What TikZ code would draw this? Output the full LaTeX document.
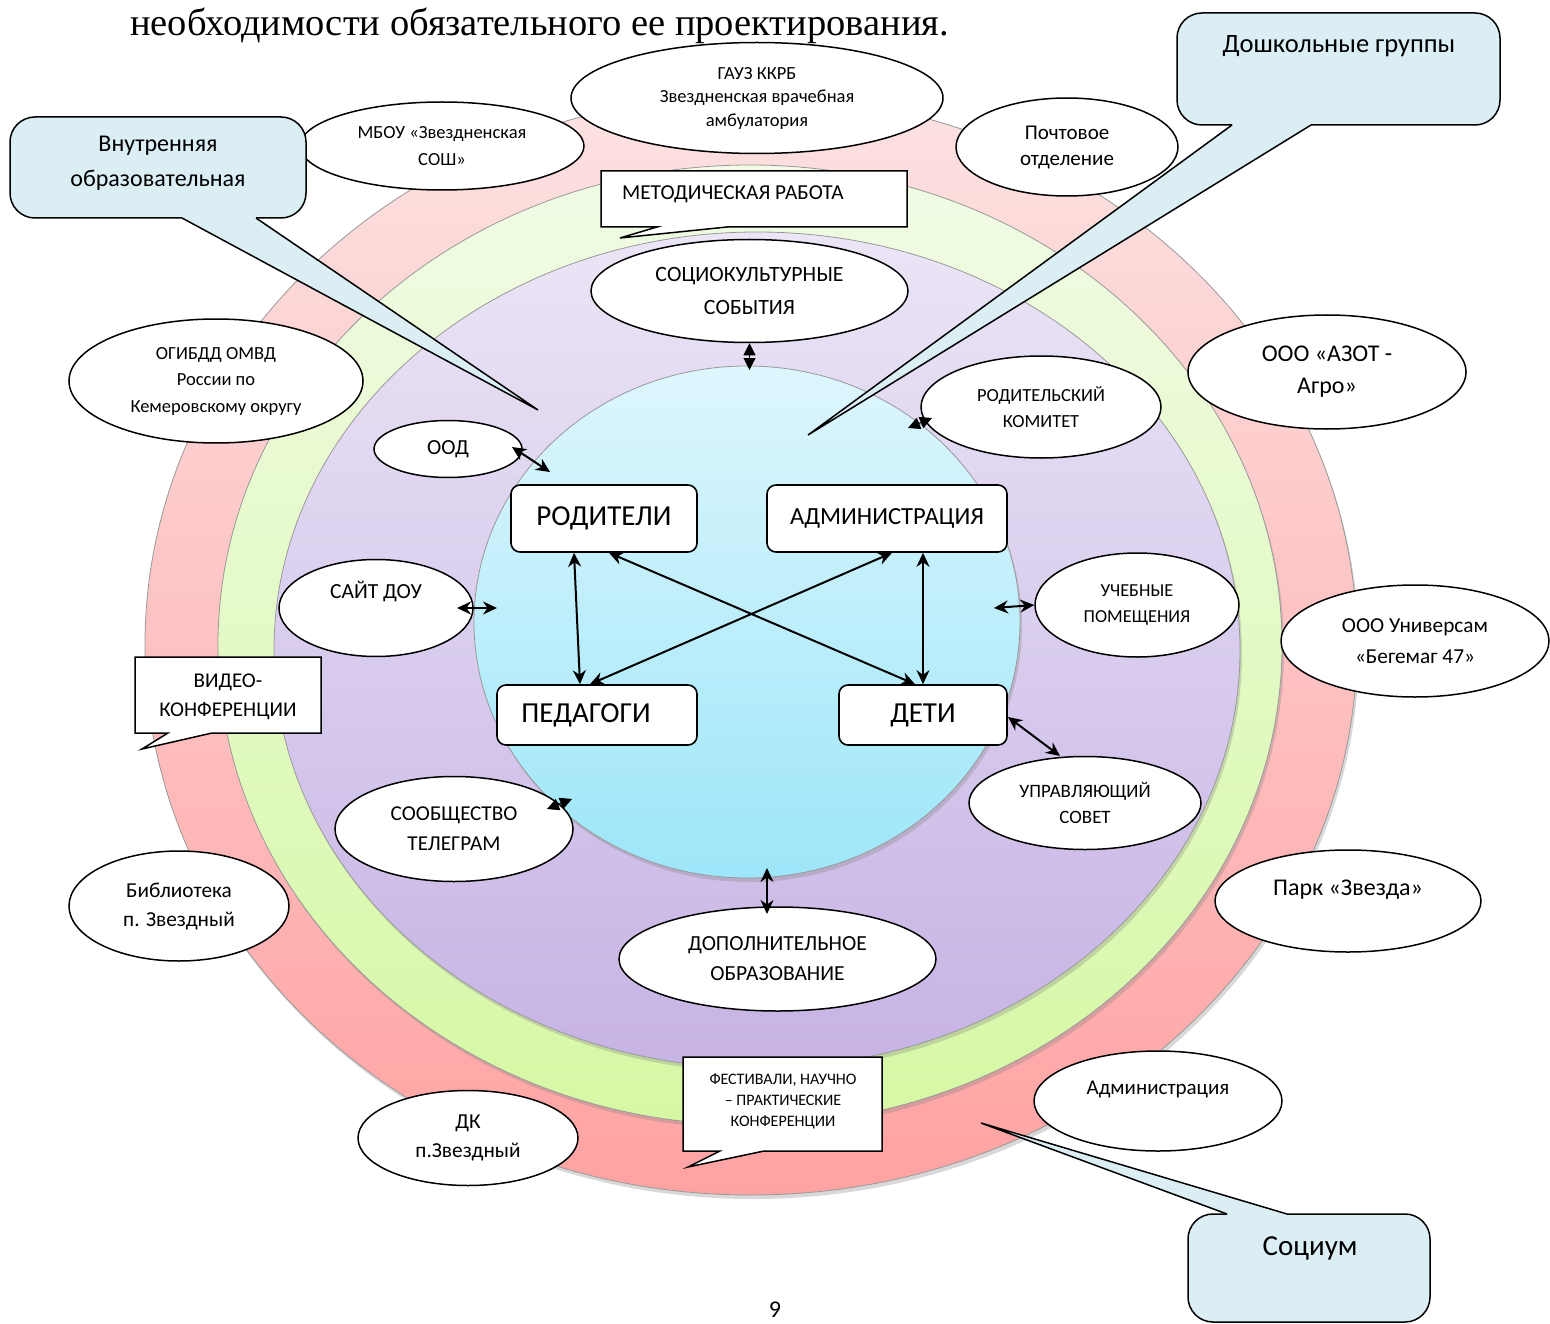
\documentclass[tikz,border=0pt]{standalone}
\usepackage{fontspec}
\setmainfont{Carlito}
\newfontfamily\hdrfont{Liberation Serif}
\usetikzlibrary{arrows.meta,shapes.geometric,shadows}
\newcommand\myfs[2]{\fontsize{#1}{#2}\selectfont}
\definecolor{redT}{HTML}{FDE2E2}
\definecolor{redB}{HTML}{FFA2A2}
\definecolor{grnT}{HTML}{F1FBE6}
\definecolor{grnB}{HTML}{D6F8A4}
\definecolor{purT}{HTML}{EBE5F6}
\definecolor{purB}{HTML}{C6B3E4}
\definecolor{cyaT}{HTML}{DEF6FD}
\definecolor{cyaB}{HTML}{9DE6F9}
\definecolor{callblue}{HTML}{DAEEF3}
\begin{document}
\begin{tikzpicture}[x=1pt,y=-1pt,
  ring/.style={draw=black!40, line width=0.8pt,
    drop shadow={shadow xshift=2pt, shadow yshift=-4pt, opacity=0.3}},
  ell/.style={ellipse, draw=black, line width=1.5pt, fill=white, inner sep=0pt, align=center},
  mbox/.style={rectangle, rounded corners=9pt, draw=black, line width=1.6pt, fill=white, inner sep=0pt},
  dbl/.style={{Stealth[length=14pt,width=13pt]}-{Stealth[length=14pt,width=13pt]}, line width=2pt},
  dia/.style={{Stealth[length=12pt,width=12pt,inset=0pt]}-{Stealth[length=12pt,width=12pt,inset=0pt]}, line width=1pt},
  cfill/.style={fill=callblue},
  cline/.style={draw=black, line width=1.5pt},
  rbox/.style={fill=white, draw=black, line width=1.5pt, line join=miter},
  txt/.style={inner sep=0pt, align=center}
]
\useasboundingbox (0,0) rectangle (1550,1324);
\fill[white] (0,0) rectangle (1550,1324);

% ---- rings ----
\path[ring, top color=redT, bottom color=redB] (751,645) ellipse [x radius=606, y radius=550];
\path[ring, top color=grnT, bottom color=grnB] (750,645) ellipse [x radius=532, y radius=480];
\path[ring, top color=purT, bottom color=purB] (757,650) ellipse [x radius=483, y radius=418];
\path[ring, top color=cyaT, bottom color=cyaB] (747,622) ellipse [x radius=273, y radius=256];

% ---- outer ellipses ----
\node[ell, minimum width=372, minimum height=111, font=\myfs{18.5}{23.5}] (gauz) at (757,98) {ГАУЗ ККРБ\\Звездненская врачебная\\амбулатория};
\node[ell, minimum width=284, minimum height=88, font=\myfs{18.5}{27}] (mbou) at (442,146) {МБОУ «Звездненская\\СОШ»};
\node[ell, minimum width=222, minimum height=98, font=\myfs{21}{26}] (pocht) at (1067,147) {Почтовое\\отделение};
\node[ell, minimum width=294, minimum height=124, font=\myfs{18.5}{26.5}] (gibdd) at (216,381) {ОГИБДД ОМВД\\России по\\Кемеровскому округу};
\node[ell, minimum width=278, minimum height=114, font=\myfs{24}{32}] (azot) at (1327,372) {ООО «АЗОТ -\\Агро»};
\node[ell, minimum width=268, minimum height=112, font=\myfs{21.3}{31}] (univ) at (1415,641) {ООО Универсам\\«Бегемаг 47»};
\node[ell, minimum width=266, minimum height=102, font=\myfs{24}{26}] (park) at (1348,901) {Парк «Звезда»\\\mbox{}};
\node[ell, minimum width=220, minimum height=110, font=\myfs{21.3}{29}] (bibl) at (179,906) {Библиотека\\п. Звездный};
\node[ell, minimum width=220, minimum height=95, font=\myfs{21.3}{29}] (dk) at (468,1138) {ДК\\п.Звездный};
\node[ell, minimum width=248, minimum height=100, font=\myfs{21}{26}] (admo) at (1158,1101) {Администрация\\\mbox{}};

% ---- inner ellipses ----
\node[ell, minimum width=317, minimum height=103, font=\myfs{21.8}{33}] (socio) at (749.5,291) {СОЦИОКУЛЬТУРНЫЕ\\СОБЫТИЯ};
\node[ell, minimum width=148, minimum height=57, font=\myfs{21.5}{24}] (ood) at (448,449) {ООД};
\node[ell, minimum width=240, minimum height=102, font=\myfs{18.5}{26}] (rodk) at (1041,407) {РОДИТЕЛЬСКИЙ\\КОМИТЕТ};
\node[ell, minimum width=194, minimum height=97, font=\myfs{21.5}{36}] (sayt) at (376,608) {САЙТ ДОУ\\\mbox{}};
\node[ell, minimum width=204, minimum height=104, font=\myfs{18.3}{26}] (ucheb) at (1137,605) {УЧЕБНЫЕ\\ПОМЕЩЕНИЯ};
\node[ell, minimum width=238, minimum height=105, font=\myfs{21.2}{30}] (soob) at (454,829) {СООБЩЕСТВО\\ТЕЛЕГРАМ};
\node[ell, minimum width=232, minimum height=93, font=\myfs{18.9}{26}] (upr) at (1085,803) {УПРАВЛЯЮЩИЙ\\СОВЕТ};
\node[ell, minimum width=317, minimum height=104, font=\myfs{21.5}{30}] (dop) at (777.5,959) {ДОПОЛНИТЕЛЬНОЕ\\ОБРАЗОВАНИЕ};

% ---- rectangular callouts ----
\path[rbox] (601,171) -- (907,171) -- (907,227) -- (727,227) -- (620,238) -- (657,227) -- (601,227) -- cycle;
\node[txt, anchor=west, font=\myfs{21.3}{24}] (metod) at (622,194) {МЕТОДИЧЕСКАЯ РАБОТА};
\path[rbox] (135,657) -- (321,657) -- (321,733) -- (212,733) -- (142,749) -- (168,733) -- (135,733) -- cycle;
\node[txt, font=\myfs{21}{29}] (video) at (228,697) {ВИДЕО-\\КОНФЕРЕНЦИИ};
\path[rbox] (683,1057) -- (882,1057) -- (882,1151) -- (764,1151) -- (688,1167) -- (720,1151) -- (683,1151) -- cycle;
\node[txt, font=\myfs{16}{21}] (fest) at (783,1101) {ФЕСТИВАЛИ, НАУЧНО\\– ПРАКТИЧЕСКИЕ\\КОНФЕРЕНЦИИ};

% ---- blue callouts ----
% Внутренняя образовательная
\fill[cfill] (182,217) -- (538,410) -- (256,217) -- cycle;
\fill[cfill, rounded corners=25pt] (10,117) rectangle (306,218);
\draw[cline, rounded corners=25pt] (256,218) -- (306,218) -- (306,117) -- (10,117) -- (10,218) -- (182,218);
\draw[cline, line join=miter] (182,218) -- (538,410) -- (256,218);
\node[txt, font=\myfs{24}{35}] (vnutr) at (158,163) {Внутренняя\\образовательная};
% Дошкольные группы
\fill[cfill] (1232,124) -- (808,435) -- (1311,124) -- cycle;
\fill[cfill, rounded corners=25pt] (1177,13) rectangle (1500,125);
\draw[cline, rounded corners=25pt] (1311,125) -- (1500,125) -- (1500,13) -- (1177,13) -- (1177,125) -- (1232,125);
\draw[cline, line join=miter] (1232,125) -- (808,435) -- (1311,125);
\node[txt, font=\myfs{26.5}{30}] (dosh) at (1339,46) {Дошкольные группы};
% Социум
\fill[cfill] (1227,1215) -- (981,1123) -- (1287,1215) -- cycle;
\fill[cfill, rounded corners=25pt] (1188,1214) rectangle (1430,1322);
\draw[cline, rounded corners=25pt] (1287,1214) -- (1430,1214) -- (1430,1322) -- (1188,1322) -- (1188,1214) -- (1227,1214);
\draw[cline, line join=miter] (1227,1214) -- (981,1123) -- (1287,1214);
\node[txt, font=\myfs{29}{32}] (soc) at (1310,1248) {Социум};

% ---- central boxes ----
\node[mbox, minimum width=186, minimum height=67, font=\myfs{29}{32}] (rod) at (604,518.5) {РОДИТЕЛИ};
\node[mbox, minimum width=240, minimum height=67, font=\myfs{24.6}{28}] (adm) at (887,518.5) {АДМИНИСТРАЦИЯ};
\node[mbox, minimum width=200, minimum height=60, font=\myfs{29}{32}] (ped) at (597,715) {\hspace*{-22pt}ПЕДАГОГИ};
\node[mbox, minimum width=168, minimum height=60, font=\myfs{29}{32}] (deti) at (923,715) {ДЕТИ};

% ---- connectors ----
\draw[dbl] ([xshift=-30pt]rod.south) -- ([xshift=-17pt]ped.north);
\draw[dbl] ([xshift=36pt]adm.south) -- ([xshift=0pt]deti.north);
\draw[dbl] ([xshift=5pt]rod.south) -- ([xshift=-8pt]deti.north);
\draw[dbl] ([xshift=5pt]adm.south) -- ([xshift=-7pt]ped.north);

\coordinate (oodA) at (512,447);
\coordinate (oodB) at (550,472);
\draw[dbl] (oodA) -- (oodB);
\coordinate (saytA) at (457,608);
\coordinate (saytB) at (497,608);
\draw[dbl] (saytA) -- (saytB);
\coordinate (uchA) at (994,608);
\draw[dbl] (uchA) -- (ucheb.west);
\coordinate (detiA) at (1008,717);
\coordinate (uprA) at (1060,756);
\draw[dbl] (detiA) -- (uprA);
\coordinate (socA) at (749.5,370);
\draw[dia] (socio.south) -- (socA);
\coordinate (dopA) at (767,868);
\coordinate (dopB) at (767,914);
\draw[dbl] (dopA) -- (dopB);
\coordinate (rodkA) at (908,428);
\coordinate (rodkB) at (932,418);
\draw[dia] (rodkA) -- (rodkB);
\coordinate (soobA) at (547,809);
\coordinate (soobB) at (572,799);
\draw[dia] (soobA) -- (soobB);

% ---- page text ----
\node[inner sep=0pt, anchor=base west, font=\hdrfont\myfs{38.5}{42}] (hdr) at (130,36) {необходимости обязательного ее проектирования.};
\node[inner sep=0pt, font=\myfs{24}{26}] (pg) at (775,1310) {9};
\end{tikzpicture}
\end{document}
